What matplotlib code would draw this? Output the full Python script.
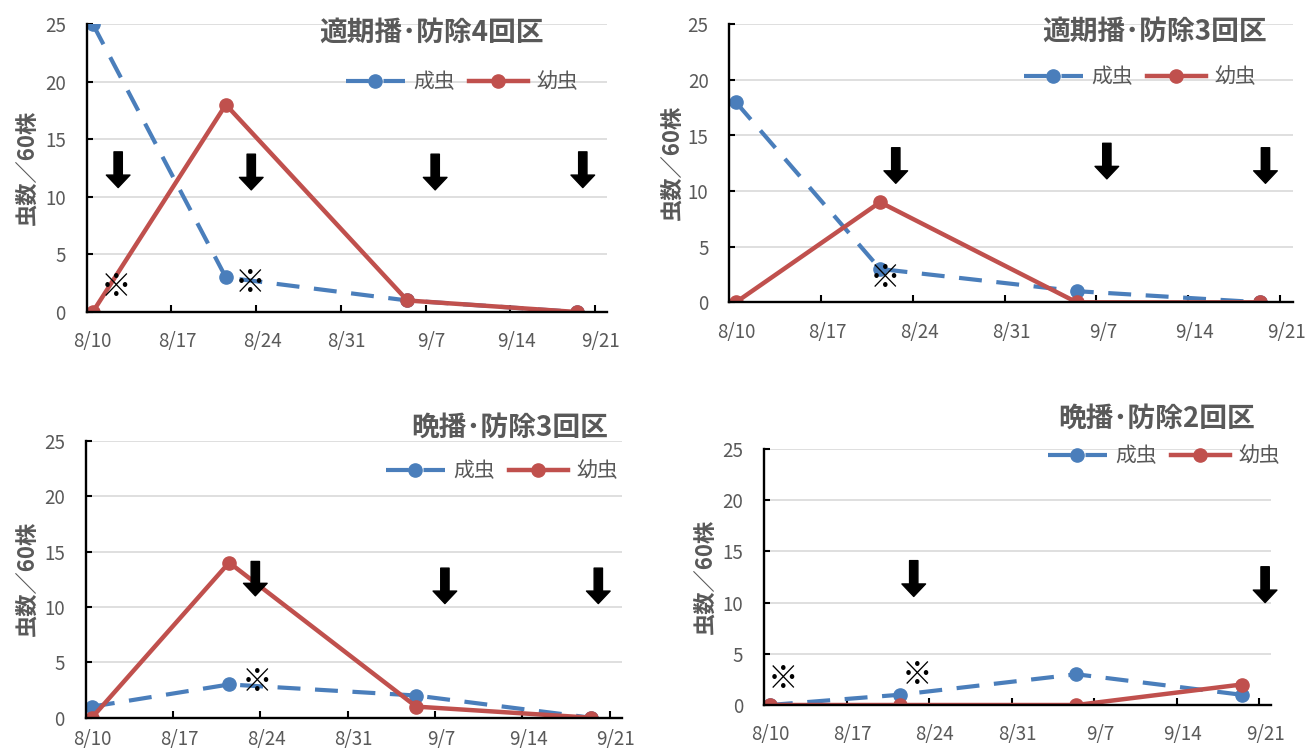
import pandas as pd
import matplotlib
matplotlib.use("Agg")
import matplotlib.pyplot as plt
from matplotlib.ticker import FixedLocator, FuncFormatter

plt.rcParams['font.family'] = ['Noto Sans CJK JP', 'DejaVu Sans']

# survey dates and counts per 60 plants
dates = ["2020-08-10", "2020-08-21", "2020-09-05", "2020-09-19"]
titles = ["適期播･防除4回区", "適期播･防除3回区", "晩播･防除3回区", "晩播･防除2回区"]
adult = [[25, 3, 1, 0], [18, 3, 1, 0], [1, 3, 2, 0], [0, 1, 3, 1]]
larva = [[0, 18, 1, 0], [0, 9, 0, 0], [0, 14, 1, 0], [0, 0, 0, 2]]

# spray timing arrows: (day offset from 8/10, top, bottom)
sprays = [
    [(2.1, 13.9, 10.8), (13.1, 13.7, 10.6), (28.3, 13.7, 10.6), (40.5, 13.9, 10.8)],
    [(12.2, 13.9, 10.7), (28.3, 14.3, 11.1), (40.4, 13.9, 10.7)],
    [(13.1, 14.1, 11.0), (28.3, 13.5, 10.3), (40.6, 13.5, 10.3)],
    [(12.2, 14.1, 10.6), (42.0, 13.5, 10.0)],
]
# ※ notes: (day offset, value)
notes = [
    [(1.9, 2.2), (13.0, 2.5)],
    [(11.4, 2.2)],
    [(13.2, 3.2)],
    [(1.1, 2.5), (12.5, 2.9)],
]

W, H = 1312, 754
# axes boxes in pixels: left, top, right, bottom
boxes = [(86.7, 24, 607, 312), (729.3, 24.3, 1293, 302.3),
         (85.7, 440.7, 622, 717.7), (764, 449, 1271, 705)]
title_pos = [(432, 33), (1155, 32), (510, 428), (1157, 419)]
legend_pos = [(462, 82), (1140, 77), (502, 471), (1164, 456)]
ylabel_x = [27, 672, 27, 705]
xpad = [14, 14, 8, 14]

start = pd.Timestamp(dates[0])
days = [(pd.Timestamp(d) - start).days for d in dates]

BLUE = "#4A7EBB"
RED = "#C0504D"
GRAY = "#595959"

fig = plt.figure(figsize=(W / 100, H / 100), dpi=100)

def fmt(v, pos):
    d = start + pd.Timedelta(days=v)
    return f"{d.month}/{d.day}"

for i in range(4):
    l, t, r, b = boxes[i]
    ax = fig.add_axes([l / W, 1 - b / H, (r - l) / W, (b - t) / H])
    ax.plot(days, adult[i], color=BLUE, lw=3, ls=(0, (5.5, 3.5)),
            marker="o", ms=9.5, label="成虫")
    ax.plot(days, larva[i], color=RED, lw=3.2, marker="o", ms=9.5, label="幼虫")

    ax.set_xlim(-0.5, 42.5)
    ax.set_ylim(0, 25)
    ax.set_yticks(range(0, 26, 5))
    ax.xaxis.set_major_locator(FixedLocator(range(0, 43, 7)))
    ax.xaxis.set_major_formatter(FuncFormatter(fmt))
    ax.xaxis.set_minor_locator(FixedLocator([6.5 + 7 * k for k in range(6)]))
    ax.tick_params(axis="x", which="major", length=0, pad=xpad[i],
                   labelsize=13.5, labelcolor=GRAY)
    ax.tick_params(axis="x", which="minor", direction="in", length=5,
                   width=1.5, color="black")
    ax.tick_params(axis="y", direction="in", length=4, width=1.5,
                   pad=15, labelsize=13.5, labelcolor=GRAY)
    ax.grid(axis="y", color="#D9D9D9", lw=1.2)
    ax.set_axisbelow(True)
    for s in ["top", "right"]:
        ax.spines[s].set_visible(False)
    for s in ["left", "bottom"]:
        ax.spines[s].set_linewidth(1.7)
        ax.spines[s].set_color("black")

    for x, y0, y1 in sprays[i]:
        ax.annotate("", xy=(x, y1), xytext=(x, y0),
                    arrowprops=dict(arrowstyle="simple,head_length=0.9,head_width=1.7,tail_width=0.6",
                                    mutation_scale=10, color="black",
                                    shrinkA=0, shrinkB=0))
    for x, y in notes[i]:
        ax.text(x, y, "※", ha="center", va="center", fontsize=22,
                fontweight="bold", color="black")

    cx, cy = title_pos[i]
    fig.text(cx / W, 1 - cy / H, titles[i], ha="center", va="center",
             fontsize=20, fontweight="bold", color=GRAY)
    lx, ly = legend_pos[i]
    ax.legend(loc="center", bbox_to_anchor=(lx / W, 1 - ly / H),
              bbox_transform=fig.transFigure, ncol=2, frameon=False,
              fontsize=15, handlelength=2.8, handletextpad=0.4,
              columnspacing=0.7, labelcolor=GRAY, borderpad=0)
    fig.text(ylabel_x[i] / W, 1 - (t + b) / 2 / H, "虫数／60株", rotation=90,
             ha="center", va="center", fontsize=16, fontweight="bold", color=GRAY)

fig.savefig("out.png", dpi=100)
